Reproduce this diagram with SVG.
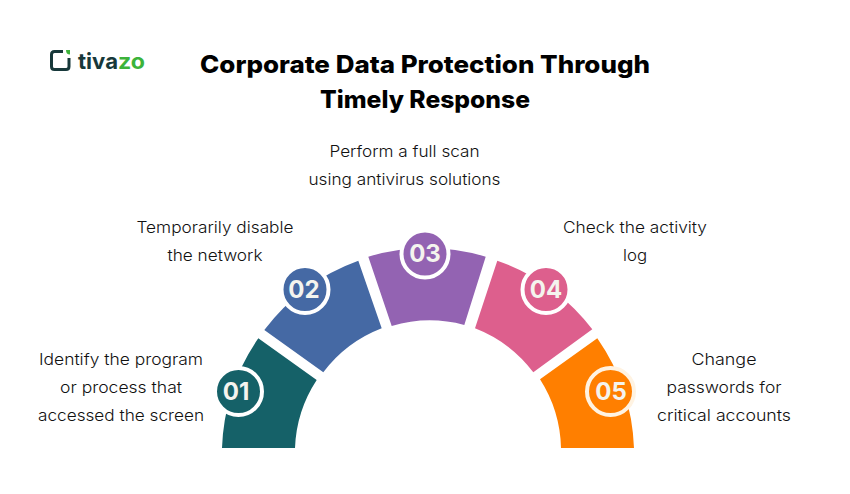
<svg xmlns="http://www.w3.org/2000/svg" width="850" height="494" viewBox="0 0 850 494">
<style>
.t{font-family:"Inter","Liberation Sans",sans-serif;font-size:16px;font-weight:300;fill:#111;text-anchor:middle}
.h{font-family:"Inter","Liberation Sans",sans-serif;font-size:24px;font-weight:800;fill:#000;text-anchor:middle}
.n{font-family:"Inter","Liberation Sans",sans-serif;font-size:24px;font-weight:700;text-anchor:middle;fill:#f4f4ee}
.r{stroke:#fff;stroke-width:4}
.l{font-family:"Inter","Liberation Sans",sans-serif;font-size:22px;font-weight:700}
</style>
<rect width="850" height="494" fill="#fff"/>
<g id="logo">
<path d="M63 51.5H54.5Q51.5 51.5 51.5 54.5V66.5Q51.5 69.5 54.5 69.5H66Q69 69.5 69 66.5V58" fill="none" stroke="#17383a" stroke-width="3"/>
<path d="M66 50H70V54.500Q66 54.500 66 50Z" fill="#3cb33a"/>
<text class="l" x="78" y="68.500" fill="#17383a" textLength="40" lengthAdjust="spacingAndGlyphs">tiva</text>
<text class="l" x="118" y="68.500" fill="#3cb33a" textLength="27" lengthAdjust="spacingAndGlyphs">zo</text>
</g>
<g id="title">
<text class="h" x="425" y="73" textLength="450" lengthAdjust="spacingAndGlyphs">Corporate Data Protection Through</text>
<text class="h" x="425" y="108" textLength="210" lengthAdjust="spacingAndGlyphs">Timely Response</text>
</g>
<g id="node-01">
<path fill="#156168" d="M222 448A206 206 0 0 1 258.3 338.3L316.7 380A133 133 0 0 0 295 448Z"/>
<circle class="r" cx="238.500" cy="391.500" r="23.500" fill="#156168"/>
<text class="n" x="236" y="400">01</text>
<text class="t" x="121" y="365" textLength="164" lengthAdjust="spacingAndGlyphs">Identify the program</text>
<text class="t" x="121" y="393" textLength="122" lengthAdjust="spacingAndGlyphs">or process that</text>
<text class="t" x="121" y="421" textLength="166" lengthAdjust="spacingAndGlyphs">accessed the screen</text>
</g>
<g id="node-02">
<path fill="#4569a4" d="M264.3 330A206 206 0 0 1 358.3 260.7L381.7 328.3A133 133 0 0 0 323.3 372.3Z"/>
<circle class="r" cx="305" cy="289.500" r="23.500" fill="#4569a4"/>
<text class="n" x="304" y="298">02</text>
<text class="t" x="215" y="233" textLength="157" lengthAdjust="spacingAndGlyphs">Temporarily disable</text>
<text class="t" x="215" y="261" textLength="95" lengthAdjust="spacingAndGlyphs">the network</text>
</g>
<g id="node-03">
<path fill="#9363b2" d="M368.3 256.7A206 206 0 0 1 485.7 256.7L464.3 325A133 133 0 0 0 391.7 326Z"/>
<circle class="r" cx="425" cy="254" r="23.500" fill="#9363b2"/>
<text class="n" x="425" y="262">03</text>
<text class="t" x="404.500" y="157" textLength="150" lengthAdjust="spacingAndGlyphs">Perform a full scan</text>
<text class="t" x="404.500" y="185" textLength="192" lengthAdjust="spacingAndGlyphs">using antivirus solutions</text>
</g>
<g id="node-04">
<path fill="#dd5f8d" d="M497.3 260.7A206 206 0 0 1 592.3 329.3L533.3 372.3A133 133 0 0 0 475 328.3Z"/>
<circle class="r" cx="546" cy="289.500" r="23.500" fill="#dd5f8d"/>
<text class="n" x="546" y="298">04</text>
<text class="t" x="635" y="233" textLength="144" lengthAdjust="spacingAndGlyphs">Check the activity</text>
<text class="t" x="635" y="261" textLength="24" lengthAdjust="spacingAndGlyphs">log</text>
</g>
<g id="node-05">
<path fill="#ff7f00" d="M597.3 338.3A206 206 0 0 1 634 448H561A133 133 0 0 0 540 379.3Z"/>
<circle cx="610.500" cy="391.500" r="23.500" fill="#ff7f00" stroke="#fff3e2" stroke-width="4"/>
<text class="n" x="611" y="400">05</text>
<text class="t" x="724" y="365" textLength="65" lengthAdjust="spacingAndGlyphs">Change</text>
<text class="t" x="724" y="393" textLength="115" lengthAdjust="spacingAndGlyphs">passwords for</text>
<text class="t" x="724" y="421" textLength="134" lengthAdjust="spacingAndGlyphs">critical accounts</text>
</g>
<g id="connectors"/>
</svg>
